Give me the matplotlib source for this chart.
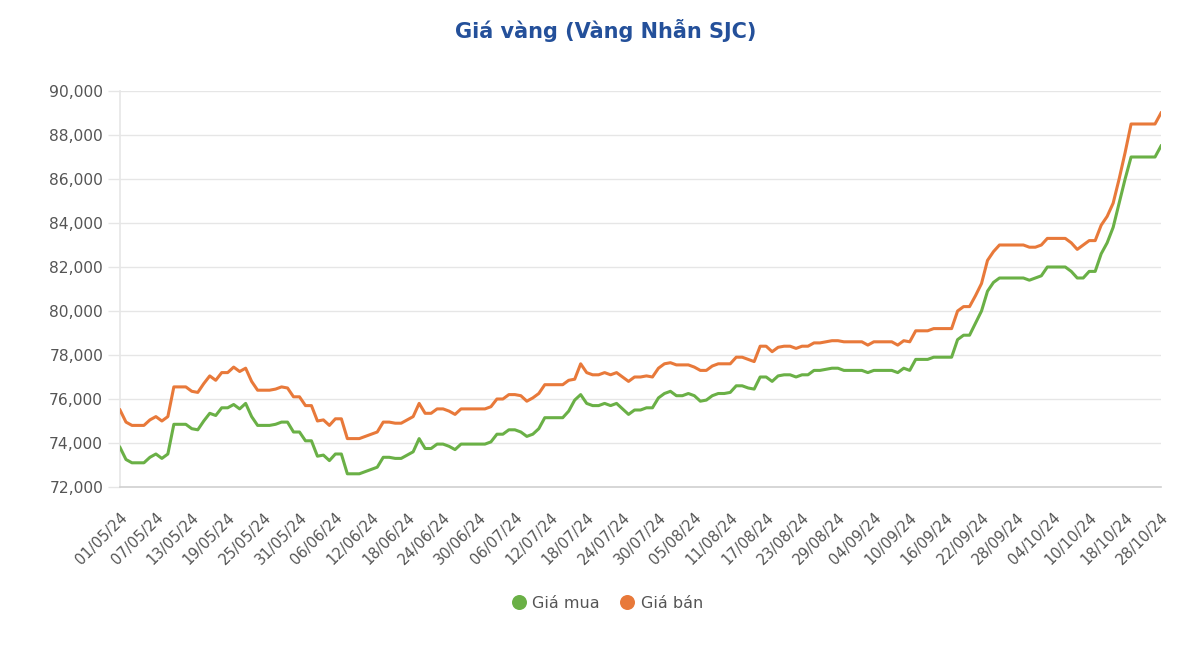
import matplotlib
matplotlib.use("Agg")
import matplotlib.pyplot as plt
from matplotlib.lines import Line2D
from matplotlib.ticker import FuncFormatter
from matplotlib.transforms import ScaledTranslation

title = "Giá vàng (Vàng Nhẫn SJC)"
series_names = ["Giá mua", "Giá bán"]

tick_labels = ["01/05/24", "07/05/24", "13/05/24", "19/05/24", "25/05/24", "31/05/24",
               "06/06/24", "12/06/24", "18/06/24", "24/06/24", "30/06/24", "06/07/24",
               "12/07/24", "18/07/24", "24/07/24", "30/07/24", "05/08/24", "11/08/24",
               "17/08/24", "23/08/24", "29/08/24", "04/09/24", "10/09/24", "16/09/24",
               "22/09/24", "28/09/24", "04/10/24", "10/10/24", "18/10/24", "28/10/24"]
tick_step = 6

buy = [73800, 73250, 73100, 73100, 73100, 73350, 73500, 73300, 73500, 74850,
       74850, 74850, 74650, 74600, 75000, 75350, 75250, 75600, 75600, 75750,
       75550, 75800, 75200, 74800, 74800, 74800, 74850, 74950, 74950, 74500,
       74500, 74100, 74100, 73400, 73450, 73200, 73500, 73500, 72600, 72600,
       72600, 72700, 72800, 72900, 73350, 73350, 73300, 73300, 73450, 73600,
       74200, 73750, 73750, 73950, 73950, 73850, 73700, 73950, 73950, 73950,
       73950, 73950, 74050, 74400, 74400, 74600, 74600, 74500, 74300, 74400,
       74650, 75150, 75150, 75150, 75150, 75450, 75950, 76200, 75800, 75700,
       75700, 75800, 75700, 75800, 75550, 75300, 75500, 75500, 75600, 75600,
       76050, 76250, 76350, 76150, 76150, 76250, 76150, 75900, 75950, 76150,
       76250, 76250, 76300, 76600, 76600, 76500, 76450, 77000, 77000, 76800,
       77050, 77100, 77100, 77000, 77100, 77100, 77300, 77300, 77350, 77400,
       77400, 77300, 77300, 77300, 77300, 77200, 77300, 77300, 77300, 77300,
       77200, 77400, 77300, 77800, 77800, 77800, 77900, 77900, 77900, 77900,
       78700, 78900, 78900, 79450, 80000, 80900, 81300, 81500, 81500, 81500,
       81500, 81500, 81400, 81500, 81600, 82000, 82000, 82000, 82000, 81800,
       81500, 81500, 81800, 81800, 82600, 83100, 83800, 84900, 86000, 87000,
       87000, 87000, 87000, 87000, 87500]

sell = [75500, 74950, 74800, 74800, 74800, 75050, 75200, 75000, 75200, 76550,
        76550, 76550, 76350, 76300, 76700, 77050, 76850, 77200, 77200, 77450,
        77250, 77400, 76800, 76400, 76400, 76400, 76450, 76550, 76500, 76100,
        76100, 75700, 75700, 75000, 75050, 74800, 75100, 75100, 74200, 74200,
        74200, 74300, 74400, 74500, 74950, 74950, 74900, 74900, 75050, 75200,
        75800, 75350, 75350, 75550, 75550, 75450, 75300, 75550, 75550, 75550,
        75550, 75550, 75650, 76000, 76000, 76200, 76200, 76150, 75900, 76050,
        76250, 76650, 76650, 76650, 76650, 76850, 76900, 77600, 77200, 77100,
        77100, 77200, 77100, 77200, 77000, 76800, 77000, 77000, 77050, 77000,
        77400, 77600, 77650, 77550, 77550, 77550, 77450, 77300, 77300, 77500,
        77600, 77600, 77600, 77900, 77900, 77800, 77700, 78400, 78400, 78150,
        78350, 78400, 78400, 78300, 78400, 78400, 78550, 78550, 78600, 78650,
        78650, 78600, 78600, 78600, 78600, 78450, 78600, 78600, 78600, 78600,
        78450, 78650, 78600, 79100, 79100, 79100, 79200, 79200, 79200, 79200,
        80000, 80200, 80200, 80700, 81250, 82300, 82700, 83000, 83000, 83000,
        83000, 83000, 82900, 82900, 83000, 83300, 83300, 83300, 83300, 83100,
        82800, 83000, 83200, 83200, 83900, 84300, 84900, 86000, 87200, 88500,
        88500, 88500, 88500, 88500, 89000]

y_ticks = [72000, 74000, 76000, 78000, 80000, 82000, 84000, 86000, 88000, 90000]

GREEN = "#6AB046"
ORANGE = "#E8793A"
TEXT = "#555555"
GRID = "#e6e6e6"

plt.rcParams["font.family"] = ["DejaVu Sans"]

W, H = 1200, 665
fig = plt.figure(figsize=(W / 100, H / 100), dpi=100)
ax = fig.add_axes([120 / W, 1 - 487 / H, (1161 - 120) / W, (487 - 91) / H])

x = list(range(len(buy)))
ax.plot(x, buy, color=GREEN, lw=2.2, solid_joinstyle="round", zorder=3)
ax.plot(x, sell, color=ORANGE, lw=2.2, solid_joinstyle="round", zorder=3)

ax.set_xlim(0, len(buy) - 1)
ax.set_ylim(y_ticks[0], y_ticks[-1])
ax.set_yticks(y_ticks)
ax.yaxis.set_major_formatter(FuncFormatter(lambda v, p: f"{int(v):,}"))
ax.grid(axis="y", color=GRID, lw=1, zorder=0)
ax.set_axisbelow(True)

for s in ["top", "right"]:
    ax.spines[s].set_visible(False)
ax.spines["left"].set_color(GRID)
ax.spines["left"].set_linewidth(1.2)
ax.spines["bottom"].set_color("#d0d0d0")
ax.spines["bottom"].set_linewidth(1.2)

ax.tick_params(axis="y", length=8.6, width=1, color=GRID, pad=3.5,
               labelcolor=TEXT, labelsize=11.2)

xt = [i * tick_step for i in range(len(tick_labels))]
ax.set_xticks(xt)
ax.set_xticklabels(tick_labels, rotation=45, ha="right", va="center",
                   rotation_mode="anchor", color=TEXT, fontsize=10.6)
ax.tick_params(axis="x", length=0, pad=0)
off = ScaledTranslation(5 / 100, -28 / 100, fig.dpi_scale_trans)
for lab in ax.get_xticklabels():
    lab.set_transform(lab.get_transform() + off)

fig.text(606 / W, 1 - 38 / H, title, ha="center", va="baseline",
         fontsize=15, fontweight="bold", color="#24509A")

handles = [Line2D([], [], ls="none", marker="o", markersize=10.8, color=c, markeredgewidth=0)
           for c in (GREEN, ORANGE)]
fig.legend(handles, series_names, loc="center", bbox_to_anchor=(607 / W, 1 - 603 / H),
           ncol=2, frameon=False, fontsize=11.5, labelcolor=TEXT,
           handlelength=1.0, handletextpad=0.35, columnspacing=1.2)

fig.savefig("out.png", dpi=100, facecolor="white")
